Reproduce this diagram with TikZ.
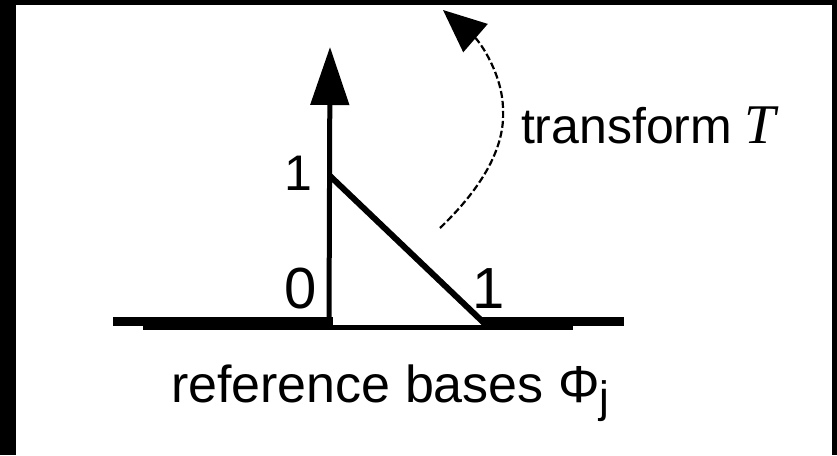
\documentclass[tikz,border=0pt]{standalone}
\usepackage{fontspec}
\setmainfont{Liberation Sans}
\newfontfamily\serifit{Liberation Serif}
\usetikzlibrary{arrows.meta}
\begin{document}
\begin{tikzpicture}[x=1pt,y=-1pt,
  lbl/.style={inner sep=0pt, outer sep=0pt, text=black, font=\fontsize{50}{60}\selectfont},
  biglbl/.style={lbl, font=\fontsize{58}{64}\selectfont},
  axisline/.style={line width=5pt, line cap=butt},
  baseline/.style={line width=8.5pt, line cap=butt},
  underline/.style={line width=5pt, line cap=butt},
  edgeline/.style={line width=6pt, line cap=butt},
  mapcurve/.style={line width=2.2pt, dash pattern=on 7pt off 3pt}]
\useasboundingbox (0,0) rectangle (837,455);
\fill[white] (0,0) rectangle (837,455);

% coordinates
\coordinate (aL) at (113,321.5);
\coordinate (aM1) at (333,321.5);
\coordinate (aM2) at (482,321.5);
\coordinate (aR) at (624,321.5);
\coordinate (bL) at (143,327.5);
\coordinate (bR) at (573,327.5);
\coordinate (O) at (329,326);
\coordinate (Ytip) at (330,47);
\coordinate (Etop) at (330,176);
\coordinate (Ebot) at (484,323);
\coordinate (Cstart) at (440,228);
\coordinate (Cmid) at (503,110);
\coordinate (Cend) at (443,10);

% base line
\draw[baseline] (aL) -- (aM1);
\draw[baseline] (aM2) -- (aR);
\draw[underline] (bL) -- (bR);

% vertical axis with arrow
\draw[axisline, -{Triangle[length=58pt,width=38pt]}] (O) -- (Ytip);

% diagonal edge of the reference element
\draw[edgeline] (Etop) -- (Ebot);

% transform curve
\draw[mapcurve, -{Triangle[length=43pt,width=37pt]}] (Cstart) .. controls (485,185) and (505,145) .. (Cmid)
  .. controls (503,75) and (480,42) .. (Cend);

% labels
\node[lbl, anchor=base] (oneY) at (298,190) {1};
\node[biglbl, anchor=base] (zero) at (301,308) {0};
\node[biglbl, anchor=base] (oneX) at (489,308) {1};
\node[lbl, anchor=base west] (transT) at (521,143) {transform\hspace{12pt}{\serifit\itshape\fontsize{56}{60}\selectfont T}};
\node[lbl, font=\fontsize{52}{60}\selectfont, anchor=base west] (caption) at (171,402)
  {reference bases Φ\raisebox{-10pt}{\fontsize{44}{44}\selectfont j}};

% black frame
\fill[black] (0,0) rectangle (16,455);
\fill[black] (0,0) rectangle (837,5);
\fill[black] (832,0) rectangle (837,455);
\end{tikzpicture}
\end{document}
